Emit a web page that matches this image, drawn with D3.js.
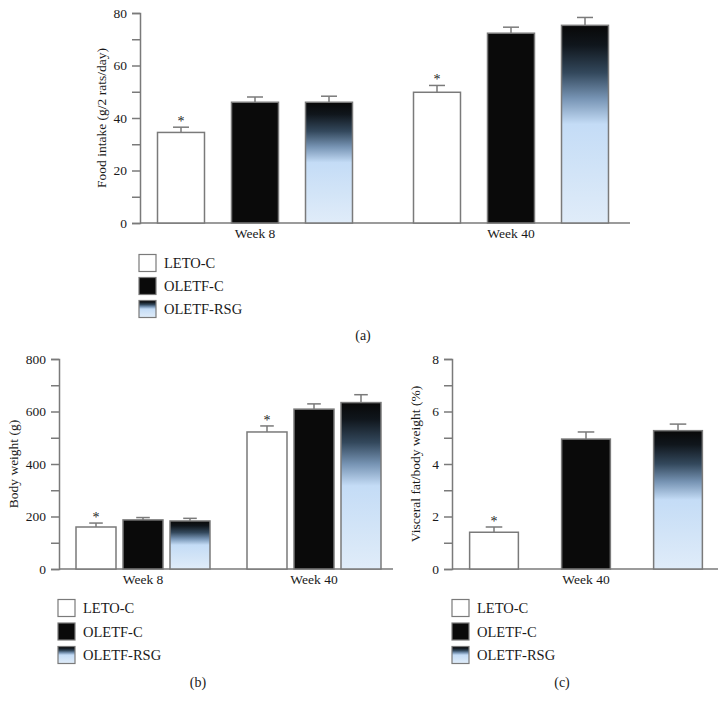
<!DOCTYPE html>
<html>
<head>
<meta charset="utf-8">
<script src="https://cdn.jsdelivr.net/npm/d3@7"></script>
<style>
  html, body { margin: 0; padding: 0; background: #fff; }
  svg { display: block; }
  text { font-family: "Liberation Serif", "DejaVu Serif", serif; fill: #1a1a1a; }
</style>
</head>
<body>
<svg id="chart" width="727" height="707"></svg>
<script>
// ---------- data ----------
const seriesNames = ["LETO-C", "OLETF-C", "OLETF-RSG"];

// (a) Food intake (g/2 rats/day)
const foodGroups = ["Week 8", "Week 40"];
const foodLETO = [34.5, 49.8];
const foodOLETF = [46.0, 72.3];
const foodRSG = [46.0, 75.3];
const foodErrLETO = [2.0, 2.6];
const foodErrOLETF = [2.0, 2.3];
const foodErrRSG = [2.3, 3.0];
const foodStar = [[true, false, false], [true, false, false]];
const foodTicks = [0, 20, 40, 60, 80];
const foodMinor = [10, 30, 50, 70];

// (b) Body weight (g)
const bwGroups = ["Week 8", "Week 40"];
const bwLETO = [160, 522];
const bwOLETF = [187, 609];
const bwRSG = [183, 634];
const bwErrLETO = [15, 23];
const bwErrOLETF = [9, 20];
const bwErrRSG = [10, 30];
const bwStar = [[true, false, false], [true, false, false]];
const bwTicks = [0, 200, 400, 600, 800];
const bwMinor = [100, 300, 500, 700];

// (c) Visceral fat/body weight (%)
const vfGroups = ["Week 40"];
const vfLETO = [1.4];
const vfOLETF = [4.95];
const vfRSG = [5.27];
const vfErrLETO = [0.2];
const vfErrOLETF = [0.27];
const vfErrRSG = [0.25];
const vfStar = [[true, false, false]];
const vfTicks = [0, 2, 4, 6, 8];
const vfMinor = [1, 3, 5, 7];

// ---------- drawing ----------
const svg = d3.select("#chart");
const gray = "#7a7a7a";
const defs = svg.append("defs");
const grad = defs.append("linearGradient").attr("id", "rsgGrad")
  .attr("x1", 0).attr("y1", 0).attr("x2", 0).attr("y2", 1);
[[0, "#080808"], [0.1, "#10161c"], [0.24, "#33485c"], [0.37, "#7794b4"],
 [0.5, "#c4dcf6"], [0.75, "#d2e4f7"], [1, "#e0ecf9"]].forEach(([o, c]) =>
  grad.append("stop").attr("offset", o).attr("stop-color", c));

const fills = ["#ffffff", "#0a0a0a", "url(#rsgGrad)"];

function buildRows(groups, a, b, c, ea, eb, ec, stars) {
  return groups.map((g, i) => ({
    group: g,
    vals: [a[i], b[i], c[i]],
    errs: [ea[i], eb[i], ec[i]],
    stars: stars[i]
  }));
}

function drawPanel(cfg) {
  const g = svg.append("g");
  const y = d3.scaleLinear().domain(cfg.domain).range([cfg.y0, cfg.y1]);
  const x0 = d3.scaleBand().domain(cfg.groups).range(cfg.groupRange).padding(0);
  const x1 = d3.scaleBand().domain(seriesNames)
    .range([-cfg.innerHalf, cfg.innerHalf])
    .paddingInner(cfg.innerPad).paddingOuter(cfg.innerPad / 2);

  // y axis
  const yAxis = d3.axisLeft(y).tickValues(cfg.ticks).tickSize(8).tickPadding(5)
    .tickFormat(d3.format("d"));
  const ya = g.append("g").attr("transform", `translate(${cfg.axisX},0)`).call(yAxis);
  ya.select(".domain").attr("stroke", gray).attr("stroke-width", 1.5);
  ya.selectAll(".tick line").attr("stroke", gray).attr("stroke-width", 1.5);
  ya.selectAll(".tick text").style("font-family", '"Liberation Serif", serif')
    .style("font-size", "13.5px").attr("fill", "#1a1a1a");
  const yMinor = d3.axisLeft(y).tickValues(cfg.minor).tickSize(8).tickFormat("");
  const ym = g.append("g").attr("transform", `translate(${cfg.axisX},0)`).call(yMinor);
  ym.select(".domain").remove();
  ym.selectAll(".tick line").attr("stroke", gray).attr("stroke-width", 1.5);

  // x axis line
  g.append("line").attr("x1", cfg.axisX).attr("x2", cfg.xEnd)
    .attr("y1", y(0)).attr("y2", y(0)).attr("stroke", gray).attr("stroke-width", 1.5);

  // group labels
  g.selectAll(".glab").data(cfg.groups).join("text")
    .attr("x", d => x0(d) + x0.bandwidth() / 2)
    .attr("y", y(0) + 15)
    .attr("text-anchor", "middle").style("font-size", "13.5px").text(d => d);

  // y label
  g.append("text")
    .attr("transform", `translate(${cfg.ylabX},${(cfg.y0 + cfg.y1) / 2}) rotate(-90)`)
    .attr("text-anchor", "middle").style("font-size", "13.5px").text(cfg.ylabel);

  // bars
  const groupsG = g.selectAll(".grp").data(cfg.rows).join("g")
    .attr("transform", d => `translate(${x0(d.group) + x0.bandwidth() / 2},0)`);
  const bw = x1.bandwidth();
  const capW = Math.max(12, bw * 0.34);
  groupsG.each(function (row) {
    const gg = d3.select(this);
    seriesNames.forEach((s, k) => {
      const v = row.vals[k], e = row.errs[k];
      const cx = x1(s) + bw / 2;
      gg.append("line").attr("x1", cx).attr("x2", cx)
        .attr("y1", y(v)).attr("y2", y(v + e)).attr("stroke", gray).attr("stroke-width", 1.5);
      gg.append("line").attr("x1", cx - capW / 2).attr("x2", cx + capW / 2)
        .attr("y1", y(v + e)).attr("y2", y(v + e)).attr("stroke", gray).attr("stroke-width", 1.5);
      gg.append("rect").attr("x", x1(s)).attr("width", bw)
        .attr("y", y(v)).attr("height", y(0) - y(v))
        .attr("fill", fills[k]).attr("stroke", gray).attr("stroke-width", 1.5);
      if (row.stars[k]) {
        gg.append("text").attr("x", cx).attr("y", y(v + e) - 1)
          .attr("text-anchor", "middle").style("font-size", "14px")
          .attr("fill", "#666").text("*");
      }
    });
  });

  // legend
  const leg = g.append("g");
  seriesNames.forEach((s, k) => {
    const cy = cfg.legY + k * cfg.legStep;
    leg.append("rect").attr("x", cfg.legX).attr("y", cy - 8.5).attr("width", 17).attr("height", 17)
      .attr("fill", fills[k]).attr("stroke", gray).attr("stroke-width", 1.2);
    leg.append("text").attr("x", cfg.legX + 25).attr("y", cy + 5)
      .style("font-size", "14.5px").text(s);
  });

  // panel label
  g.append("text").attr("x", cfg.labX).attr("y", cfg.labY)
    .attr("text-anchor", "middle").style("font-size", "14px").text(cfg.label);
}

drawPanel({
  groups: foodGroups,
  rows: buildRows(foodGroups, foodLETO, foodOLETF, foodRSG, foodErrLETO, foodErrOLETF, foodErrRSG, foodStar),
  domain: [0, 80], y0: 223, y1: 13, ticks: foodTicks, minor: foodMinor,
  axisX: 140, xEnd: 630, groupRange: [127, 639], innerHalf: 111, innerPad: 0.365,
  ylabX: 106, ylabel: "Food intake (g/2 rats/day)",
  legX: 139, legY: 263, legStep: 23, labX: 363, labY: 340, label: "(a)"
});

drawPanel({
  groups: bwGroups,
  rows: buildRows(bwGroups, bwLETO, bwOLETF, bwRSG, bwErrLETO, bwErrOLETF, bwErrRSG, bwStar),
  domain: [0, 800], y0: 569, y1: 359, ticks: bwTicks, minor: bwMinor,
  axisX: 59, xEnd: 393, groupRange: [57.5, 399.5], innerHalf: 70.5, innerPad: 0.149,
  ylabX: 18, ylabel: "Body weight (g)",
  legX: 58, legY: 608, legStep: 23.5, labX: 198, labY: 687, label: "(b)"
});

drawPanel({
  groups: vfGroups,
  rows: buildRows(vfGroups, vfLETO, vfOLETF, vfRSG, vfErrLETO, vfErrOLETF, vfErrRSG, vfStar),
  domain: [0, 8], y0: 569, y1: 359, ticks: vfTicks, minor: vfMinor,
  axisX: 452, xEnd: 718, groupRange: [452, 720], innerHalf: 138, innerPad: 0.47,
  ylabX: 420, ylabel: "Visceral fat/body weight (%)",
  legX: 452, legY: 608, legStep: 23.5, labX: 562, labY: 687, label: "(c)"
});
</script>
</body>
</html>
